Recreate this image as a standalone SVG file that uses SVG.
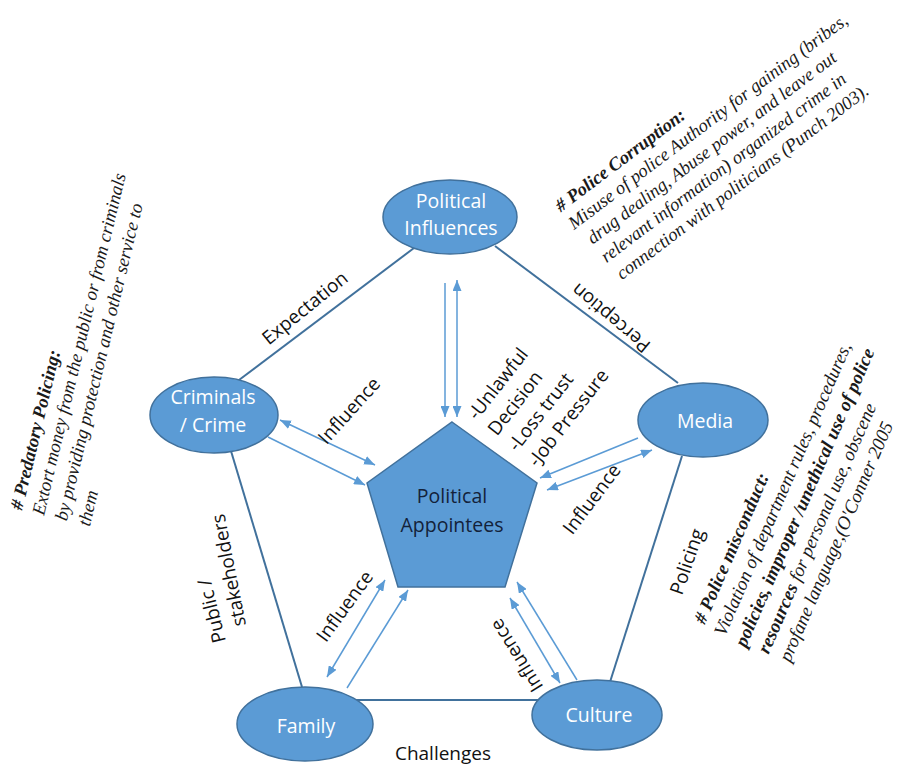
<svg xmlns="http://www.w3.org/2000/svg" width="898" height="765" viewBox="0 0 898 765">
  <defs>
    <marker id="head" viewBox="0 0 11 9" refX="11" refY="4.5" markerWidth="11" markerHeight="9" markerUnits="userSpaceOnUse" orient="auto-start-reverse">
      <path d="M0,0 L11,4.5 L0,9 z" fill="#5B9BD5"/>
    </marker>
  </defs>
  <style>
    .node { fill: #5B9BD5; stroke: #41719C; stroke-width: 1.5; }
    .ntext { font-family: "Open Sans", "Liberation Sans", sans-serif; font-size: 19.5px; fill: #ffffff; text-anchor: middle; }
    .ctext { font-family: "Open Sans", "Liberation Sans", sans-serif; font-size: 19.5px; fill: #13223a; text-anchor: middle; }
    .edge { stroke: #41719C; stroke-width: 2; fill: none; }
    .arrow { stroke: #5B9BD5; stroke-width: 1.5; fill: none; }
    .lbl { font-family: "Open Sans", "Liberation Sans", sans-serif; font-size: 19px; fill: #111111; }
    .note { font-family: "Liberation Serif", "Times New Roman", serif; font-style: italic; fill: #1a1a1a; }
    .b { font-weight: bold; }
  </style>

  <!-- outer ring of relationships -->
  <g id="connectors">
    <line class="edge" x1="414" y1="248" x2="235" y2="383"/>
    <line class="edge" x1="495" y1="246" x2="678" y2="383"/>
    <line class="edge" x1="231" y1="451" x2="302" y2="687"/>
    <line class="edge" x1="682" y1="456" x2="610" y2="682"/>
    <line class="edge" x1="353" y1="700" x2="541" y2="700"/>

    <!-- influence arrows towards the centre -->
    <line class="arrow" x1="445" y1="283" x2="445" y2="417" marker-end="url(#head)"/>
    <line class="arrow" x1="457" y1="280" x2="457" y2="417" marker-start="url(#head)" marker-end="url(#head)"/>

    <line class="arrow" x1="280" y1="420" x2="375" y2="465" marker-start="url(#head)" marker-end="url(#head)"/>
    <line class="arrow" x1="268" y1="437" x2="365" y2="485" marker-end="url(#head)"/>

    <line class="arrow" x1="638" y1="438" x2="540" y2="478" marker-end="url(#head)"/>
    <line class="arrow" x1="547" y1="490" x2="652" y2="450" marker-start="url(#head)" marker-end="url(#head)"/>

    <line class="arrow" x1="327" y1="677" x2="385" y2="580" marker-start="url(#head)" marker-end="url(#head)"/>
    <line class="arrow" x1="347" y1="688" x2="408" y2="590" marker-end="url(#head)"/>

    <line class="arrow" x1="510" y1="598" x2="560" y2="683" marker-start="url(#head)" marker-end="url(#head)"/>
    <line class="arrow" x1="577" y1="680" x2="517" y2="582" marker-end="url(#head)"/>
  </g>

  <g id="node-political-influences">
    <ellipse class="node" cx="450" cy="217" rx="67" ry="37"/>
    <text class="ntext" x="451" y="208">Political</text>
    <text class="ntext" x="451" y="235">Influences</text>
  </g>

  <g id="node-criminals">
    <ellipse class="node" cx="214" cy="415" rx="64" ry="38"/>
    <text class="ntext" x="213" y="404">Criminals</text>
    <text class="ntext" x="213" y="432">/ Crime</text>
  </g>

  <g id="node-media">
    <ellipse class="node" cx="703" cy="420" rx="65" ry="37"/>
    <text class="ntext" x="705" y="428">Media</text>
  </g>

  <g id="node-family">
    <ellipse class="node" cx="305" cy="724" rx="68" ry="37"/>
    <text class="ntext" x="306" y="733">Family</text>
  </g>

  <g id="node-culture">
    <ellipse class="node" cx="597" cy="715" rx="65" ry="35"/>
    <text class="ntext" x="599" y="722">Culture</text>
  </g>

  <g id="node-political-appointees">
    <polygon class="node" points="452,422 537,483 505,587 398,587 367,483"/>
    <text class="ctext" x="452" y="503">Political</text>
    <text class="ctext" x="452" y="532">Appointees</text>
  </g>

  <!-- edge labels -->
  <g id="edge-labels">
    <text class="lbl" text-anchor="middle" transform="translate(309,313) rotate(-39)">Expectation</text>
    <text class="lbl" text-anchor="middle" transform="translate(615,313) rotate(-140)">Perception</text>
    <text class="lbl" transform="translate(226,641) rotate(-104)">Public /</text>
    <text class="lbl" transform="translate(246,625) rotate(-101)">stakeholders</text>
    <text class="lbl" transform="translate(682,596) rotate(-71)">Policing</text>
    <text class="lbl" text-anchor="middle" x="443" y="760">Challenges</text>

    <text class="lbl" text-anchor="middle" transform="translate(354,415) rotate(-48)">Influence</text>
    <text class="lbl" text-anchor="middle" transform="translate(597,503) rotate(-53)">Influence</text>
    <text class="lbl" text-anchor="middle" transform="translate(350,610) rotate(-54)">Influence</text>
    <text class="lbl" text-anchor="middle" transform="translate(522,652) rotate(-122)">Influence</text>

    <g transform="translate(477,421) rotate(-52)">
      <text class="lbl" x="0" y="0">-Unlawful</text>
      <text class="lbl" x="0" y="25.5">Decision</text>
      <text class="lbl" x="0" y="51">-Loss trust</text>
      <text class="lbl" x="0" y="76.5">-Job Pressure</text>
    </g>
  </g>

  <!-- definitions written alongside the diagram -->
  <g id="note-corruption" class="note" font-size="18.5" transform="translate(574,230) rotate(-37)">
    <text class="b" x="0" y="-22">#<tspan dx="5">Police Corruption:</tspan></text>
    <text x="0" y="0">Misuse of police Authority for gaining (bribes,</text>
    <text x="6" y="23">drug dealing, Abuse power, and leave out</text>
    <text x="6" y="46">relevant information) organized crime in</text>
    <text x="8" y="69">connection with politicians (Punch 2003).</text>
  </g>

  <g id="note-predatory" class="note" font-size="18.5" transform="translate(44,516) rotate(-76.5)">
    <text class="b" x="0" y="-22.5">#<tspan dx="5">Predatory Policing:</tspan></text>
    <text x="0" y="0">Extort money from the public or from criminals</text>
    <text x="0" y="23.5">by providing protection and other service to</text>
    <text x="0" y="47">them</text>
  </g>

  <g id="note-misconduct" class="note" font-size="18.8" transform="translate(725,637) rotate(-66.5)">
    <text class="b" x="3" y="-23.5">#<tspan dx="5">Police misconduct:</tspan></text>
    <text x="0" y="0">Violation of department rules, procedures,</text>
    <text class="b" x="-2" y="23.5">policies, improper /unethical use of police</text>
    <text x="1" y="47"><tspan class="b">resources</tspan> for personal use, obscene</text>
    <text x="2" y="70">profane language,(O'Conner 2005</text>
  </g>
</svg>
